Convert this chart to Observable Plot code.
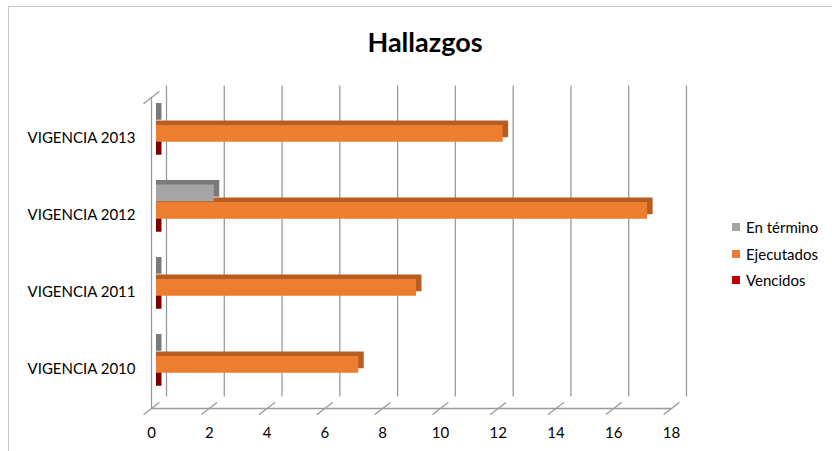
<!DOCTYPE html>
<html>
<head>
<meta charset="utf-8">
<script src="https://cdn.jsdelivr.net/npm/d3@7"></script>
<script src="https://cdn.jsdelivr.net/npm/@observablehq/plot@0.6"></script>
<style>
  html, body { margin: 0; padding: 0; background: #fff; overflow: hidden; }
  body { width: 832px; height: 451px; position: relative; font-family: Lato, "Open Sans", sans-serif; }
  #border { position: absolute; left: 8px; top: 6px; width: 900px; height: 500px; border: 1px solid #c8c8c8; box-sizing: border-box; }
  #title { position: absolute; left: 0; width: 850px; top: 25px; text-align: center; font-weight: bold; font-size: 27px; color: #000; }
  #chart { position: absolute; left: 0; top: 0; }
  #legend { position: absolute; left: 732px; top: 214px; font-size: 15px; color: #000; }
  .item { display: flex; align-items: center; height: 26.5px; }
  .sw { width: 8px; height: 8px; margin-right: 6px; }
</style>
</head>
<body>
<div id="border"></div>
<div id="title">Hallazgos</div>
<div id="chart"></div>
<div id="legend"></div>
<script>
const categories = ["VIGENCIA 2013", "VIGENCIA 2012", "VIGENCIA 2011", "VIGENCIA 2010"];
const series = ["En término", "Ejecutados", "Vencidos"];
const enTermino = [0, 2, 0, 0];
const ejecutados = [12, 17, 9, 7];
const vencidos = [0, 0, 0, 0];
const xTicks = [0, 2, 4, 6, 8, 10, 12, 14, 16, 18];
const frontColors = ["#a5a5a5", "#ed7d31", "#c00000"];
const sideColors = ["#7a7a7a", "#b65e22", "#7d0000"];

const valuesBySeries = [enTermino, ejecutados, vencidos];
const rows = [];
series.forEach((s, si) => categories.forEach((c, ci) => rows.push({category: c, series: s, value: valuesBySeries[si][ci]})));

// per-series slot inside each category band (px)
const slot = {
  "En término": {insetTop: 13, insetBottom: 47.25},
  "Ejecutados": {insetTop: 30.5, insetBottom: 29.75},
  "Vencidos":   {insetTop: 48, insetBottom: 12.25}
};
const depth = {dx: 15, dy: -11.5};
const line = {draw(context, l) { context.moveTo(0, 0); context.lineTo(0, -l); }};
const gridColor = "#9a9a9a";

const marks = [
  Plot.ruleX(xTicks, {x: d => d, stroke: gridColor, strokeWidth: 1.3, dx: depth.dx, dy: depth.dy}),
  Plot.ruleX([0], {x: d => d, stroke: gridColor, strokeWidth: 1.3}),
  Plot.frame({anchor: "bottom", stroke: gridColor, strokeWidth: 1.3}),
  Plot.vector(xTicks, {x: d => d, frameAnchor: "bottom", length: 18.9, rotate: 52.5, shape: line, stroke: gridColor, strokeWidth: 1.3}),
  Plot.vector([0], {x: d => d, frameAnchor: "top", length: 18.9, rotate: 52.5, shape: line, stroke: gridColor, strokeWidth: 1.3})
];
// extrusions (top + side faces)
series.forEach((s, si) => {
  marks.push(Plot.barX(rows.filter(r => r.series === s), {
    x1: 0, x2: "value", y: "category", fill: sideColors[si],
    insetTop: slot[s].insetTop, insetBottom: slot[s].insetBottom, insetRight: -5.5,
    dx: 5, dy: -9
  }));
});
// front faces
series.forEach((s, si) => {
  marks.push(Plot.barX(rows.filter(r => r.series === s), {
    x1: 0, x2: "value", y: "category", fill: frontColors[si],
    insetTop: slot[s].insetTop, insetBottom: slot[s].insetBottom,
    dx: 5, dy: -4.5
  }));
});

const chart = Plot.plot({
  width: 832,
  height: 451,
  marginLeft: 151,
  marginRight: 161,
  marginTop: 97,
  marginBottom: 43,
  style: {fontFamily: "Lato, 'Open Sans', sans-serif", fontSize: "15px", color: "#000", background: "transparent"},
  x: {domain: [0, 18], ticks: xTicks, tickSize: 0, tickPadding: 19, label: null},
  y: {domain: categories, padding: 0, tickSize: 0, tickPadding: 16, label: null},
  marks
});
document.getElementById("chart").appendChild(chart);

const legend = document.getElementById("legend");
series.forEach((s, i) => {
  const item = document.createElement("div");
  item.className = "item";
  const sw = document.createElement("span");
  sw.className = "sw";
  sw.style.background = frontColors[i];
  const t = document.createElement("span");
  t.textContent = s;
  item.appendChild(sw);
  item.appendChild(t);
  legend.appendChild(item);
});
</script>
</body>
</html>
